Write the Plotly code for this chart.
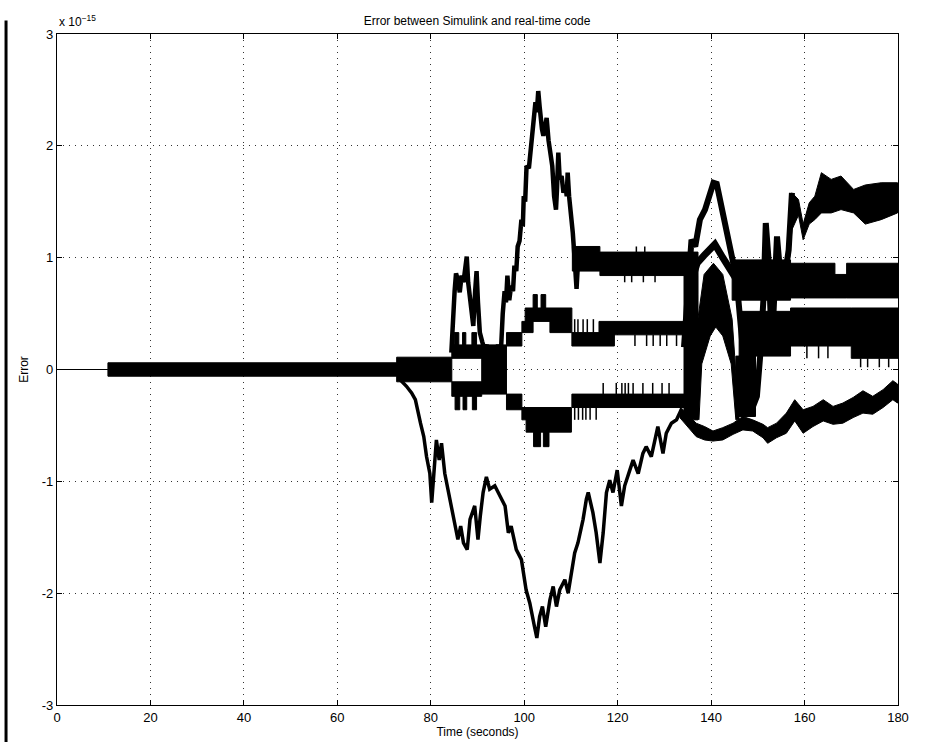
import plotly.graph_objects as go

# ---------------- data (values in units of 1e-15) ----------------
# quantised bands: (start time, end time, low, high)
band_t0 = [10.9, 72.7,
           84.5, 85.0, 86.8, 88.8, 90.9, 96.2, 99.5, 100.2, 105.5, 101.9, 103.6,
           110.2, 116.0, 119.3,
           84.5, 85.2, 86.9, 88.9, 96.2, 99.5, 100.4, 102.0, 104.1, 110.2,
           110.3, 116.2,
           134.2,
           144.5, 146.0, 145.3,
           157.0, 166.5, 169.0, 157.0, 170.0]
band_t1 = [72.7, 84.5,
           90.9, 86.0, 87.5, 89.8, 96.2, 99.5, 101.9, 110.2, 110.2, 102.8, 104.6,
           116.0, 119.3, 134.2,
           90.9, 86.2, 87.7, 89.8, 99.5, 100.4, 110.1, 103.5, 105.3, 134.2,
           116.2, 134.2,
           137.2,
           157.0, 157.0, 149.5,
           166.5, 169.0, 180.0, 170.0, 180.0]
band_lo = [-0.06, -0.11,
           0.10, 0.22, 0.22, 0.22, -0.22, 0.21, 0.33, 0.43, 0.33, 0.55, 0.55,
           0.21, 0.21, 0.31,
           -0.24, -0.36, -0.36, -0.36, -0.36, -0.45, -0.56, -0.69, -0.69, -0.34,
           0.88, 0.84,
           -0.45,
           0.62, 0.12, -0.42,
           0.64, 0.64, 0.64, 0.21, 0.10]
band_hi = [0.06, 0.11,
           0.22, 0.33, 0.33, 0.33, 0.22, 0.33, 0.43, 0.55, 0.43, 0.67, 0.67,
           0.33, 0.43, 0.43,
           -0.11, -0.24, -0.24, -0.24, -0.22, -0.34, -0.34, -0.56, -0.56, -0.22,
           1.10, 1.05,
           1.05,
           0.98, 0.52, 0.12,
           0.95, 0.85, 0.95, 0.55, 0.55]

# thin vertical spikes: time, from, to
spike_t = [110.8, 111.5, 112.6, 113.5, 114.8,
           110.8, 111.6, 112.5, 113.2, 114.1, 115.4,
           116.9, 119.7, 120.9, 121.6, 122.3, 123.3, 125.4, 127.5, 129.5, 131.0,
           123.7, 126.2, 127.6, 129.1, 130.5, 132.6,
           121.5, 123.0, 125.5, 128.0, 124.0, 125.8,
           172.0, 173.5, 176.0, 178.0, 160.5, 163.0, 165.0]
spike_v0 = [0.33, 0.33, 0.33, 0.33, 0.33,
            -0.34, -0.34, -0.34, -0.34, -0.34, -0.34,
            -0.22, -0.22, -0.22, -0.22, -0.22, -0.22, -0.22, -0.22, -0.22, -0.22,
            0.31, 0.31, 0.31, 0.31, 0.31, 0.31,
            0.84, 0.84, 0.84, 0.84, 1.05, 1.05,
            0.10, 0.10, 0.10, 0.10, 0.21, 0.21, 0.21]
spike_v1 = [0.45, 0.45, 0.45, 0.45, 0.45,
            -0.45, -0.45, -0.45, -0.45, -0.45, -0.45,
            -0.12, -0.12, -0.12, -0.12, -0.12, -0.12, -0.12, -0.12, -0.12, -0.12,
            0.21, 0.21, 0.21, 0.21, 0.21, 0.21,
            0.78, 0.78, 0.78, 0.78, 1.10, 1.10,
            0.02, 0.02, 0.02, 0.02, 0.10, 0.10, 0.10]

# upper wandering error (first part)
a_t = [84.4, 84.8, 85.1, 85.4, 85.8, 86.2, 86.6, 87.0, 87.4, 87.7, 88.0, 88.3, 88.7,
       89.1, 89.5, 89.8, 90.1, 90.5, 91.0, 91.5, 92.0, 92.6, 93.2, 93.8, 94.4, 95.0,
       95.4, 95.8, 96.1, 96.4, 96.8, 97.2, 97.6, 97.9, 98.3, 98.6, 99.0, 99.4, 99.7,
       99.9, 100.2, 100.5, 101.0, 101.3, 101.7, 102.0, 102.4, 102.7, 103.0, 103.3,
       103.5, 103.8, 104.1, 104.5, 104.8, 105.2, 105.4, 105.7, 106.0, 106.4, 106.8,
       107.0, 107.3, 107.6, 108.0, 108.4, 108.8, 109.1, 109.3, 109.6, 110.0, 110.4,
       110.8, 111.2, 111.5, 112.0]
a_v = [0.15, 0.55, 0.70, 0.86, 0.80, 0.69, 0.84, 0.78, 0.92, 1.01, 0.78, 0.68, 0.50,
       0.39, 0.70, 0.88, 0.60, 0.33, 0.25, 0.18, 0.22, 0.10, 0.20, 0.12, 0.22, 0.15,
       0.50, 0.70, 0.60, 0.84, 0.62, 0.75, 0.70, 0.93, 0.88, 1.10, 1.15, 1.34, 1.28,
       1.55, 1.50, 1.82, 1.80, 1.94, 2.15, 2.30, 2.39, 2.30, 2.49, 2.35,
       2.24, 2.15, 2.09, 2.20, 2.25, 2.05, 1.97, 1.94, 1.82, 1.55, 1.43,
       1.60, 1.94, 1.70, 1.73, 1.58, 1.65, 1.55, 1.76, 1.55, 1.40, 1.22,
       0.98, 0.72, 0.95, 1.00]

# upper wandering error (second part)
a2_t = [134.2, 134.8, 135.1, 135.8, 136.6, 137.6, 138.7, 139.3, 139.8, 140.5, 141.2,
        141.9, 142.5, 143.0, 143.7, 144.4, 145.0, 145.5, 146.2, 146.9, 147.7, 148.7,
        149.8, 150.5, 151.2, 151.7, 152.3, 153.0, 153.6, 154.1, 155.2, 155.9, 156.6,
        157.3]
a2_v = [0.20, 0.60, 0.78, 1.16, 1.10, 1.34, 1.43, 1.50, 1.58, 1.67, 1.66,
        1.52, 1.45, 1.34, 1.19, 1.01, 0.90, 0.78, 0.48, 0.06, -0.24, -0.36,
        -0.24, 0.12, 0.63, 1.31, 0.98, 0.18, 0.72, 1.19, 0.66, 0.90, 1.07,
        1.58]

# inner triangle and arch in the 135-146 s region
tri_t = [135.5, 137.0, 138.5, 140.8, 142.5, 144.0, 145.5]
tri_v = [0.75, 0.95, 1.02, 1.12, 1.00, 0.90, 0.80]
arch_t = [136.5, 137.0, 138.5, 140.5, 142.5, 144.5, 146.0,
          145.3, 144.3, 142.5, 141.0, 139.8, 138.0, 137.4]
arch_v = [-0.45, 0.40, 0.85, 0.95, 0.85, 0.45, -0.45,
          -0.45, 0.05, 0.30, 0.38, 0.30, 0.05, -0.45]

# late upper band (~1.5)
h_t = [156.8, 157.3, 158.7, 159.7, 161.0, 162.2, 163.6, 165.7, 167.8, 170.5, 173.0, 176.4, 179.9]
h_hi = [1.20, 1.58, 1.52, 1.30, 1.49, 1.55, 1.76, 1.70, 1.73, 1.61, 1.65, 1.67, 1.67]
h_lo = [1.00, 1.25, 1.38, 1.16, 1.30, 1.34, 1.40, 1.40, 1.43, 1.40, 1.30, 1.34, 1.40]

# lower wandering error (first part)
c_t = [73.4, 74.8, 75.9, 76.7, 77.8, 78.5, 79.1, 79.8, 80.2, 80.6, 81.2, 81.8, 82.3,
       83.0, 83.8, 84.8, 85.8, 86.4, 87.0, 87.8, 88.4, 89.4, 90.1, 90.6, 91.2, 91.9,
       92.6, 93.7, 94.8, 95.9, 96.6, 97.2, 98.3, 99.4, 100.4, 101.2, 102.2, 102.7,
       103.3, 103.9, 104.6, 105.5, 106.2, 106.9, 107.6, 108.7, 109.4, 110.1, 110.8,
       111.5, 112.6, 113.3, 113.7, 114.7, 115.4, 116.2, 116.9, 117.6, 118.3, 119.0,
       119.9, 120.8, 121.5, 122.6, 123.3, 124.4, 125.4, 126.1, 127.2, 128.6, 129.7,
       130.4, 131.5, 132.6, 133.6]
c_v = [-0.09, -0.15, -0.21, -0.27, -0.48, -0.60, -0.78, -0.93, -1.19, -0.99, -0.63,
       -0.81, -0.66, -0.93, -1.10, -1.34, -1.52, -1.40, -1.55, -1.61, -1.34, -1.22,
       -1.52, -1.31, -1.10, -0.96, -1.07, -1.04, -1.13, -1.22, -1.46, -1.40, -1.61,
       -1.70, -1.97, -2.09, -2.30, -2.40, -2.21, -2.12, -2.30, -2.06, -1.94, -2.12,
       -1.97, -1.88, -2.00, -1.82, -1.64, -1.55, -1.34, -1.16, -1.10, -1.28, -1.46,
       -1.73, -1.46, -1.10, -0.99, -1.10, -0.90, -1.22, -1.04, -0.90, -0.81, -0.93,
       -0.75, -0.69, -0.78, -0.51, -0.75, -0.57, -0.48, -0.45, -0.36]

# lower wandering error (second part, noisy band)
c2_t = [133.3, 136.8, 138.6, 140.4, 142.5, 144.7, 146.8, 148.9, 151.1, 152.1, 154.0,
        156.1, 157.9, 159.7, 161.8, 164.0, 166.1, 168.2, 170.4, 172.5, 174.6, 176.8,
        178.9, 179.9]
c2_hi = [-0.33, -0.48, -0.51, -0.55, -0.52, -0.48, -0.42, -0.45, -0.49, -0.52, -0.48,
         -0.39, -0.27, -0.36, -0.33, -0.27, -0.33, -0.30, -0.25, -0.19, -0.24, -0.18,
         -0.10, -0.13]
c2_lo = [-0.43, -0.60, -0.63, -0.64, -0.63, -0.58, -0.54, -0.55, -0.61, -0.66, -0.61,
         -0.57, -0.46, -0.57, -0.51, -0.46, -0.49, -0.48, -0.43, -0.39, -0.40, -0.34,
         -0.27, -0.30]

x_ticks = [0, 20, 40, 60, 80, 100, 120, 140, 160, 180]
y_ticks = [-3, -2, -1, 0, 1, 2, 3]

# ---------------- figure ----------------
INK = "#000000"
FAM = "Liberation Sans, Arial, Helvetica, sans-serif"
fig = go.Figure()

# initial exact zero
fig.add_trace(go.Scatter(x=[0, 10.9], y=[0, 0], mode="lines",
                         line=dict(color=INK, width=1), hoverinfo="skip"))

# quantised bands as filled rectangles
bx, by = [], []
for t0, t1, lo, hi in zip(band_t0, band_t1, band_lo, band_hi):
    bx += [t0, t1, t1, t0, t0, None]
    by += [lo, lo, hi, hi, lo, None]
fig.add_trace(go.Scatter(x=bx, y=by, mode="lines", fill="toself", fillcolor=INK,
                         line=dict(color=INK, width=1), hoverinfo="skip"))

# spikes
sx, sy = [], []
for t, v0, v1 in zip(spike_t, spike_v0, spike_v1):
    sx += [t, t, None]
    sy += [v0, v1, None]
fig.add_trace(go.Scatter(x=sx, y=sy, mode="lines", line=dict(color=INK, width=1.5),
                         hoverinfo="skip"))

# arch polygon
fig.add_trace(go.Scatter(x=arch_t, y=arch_v, mode="lines", fill="toself", fillcolor=INK,
                         line=dict(color=INK, width=1), hoverinfo="skip"))

# late bands with sloping edges
fig.add_trace(go.Scatter(x=h_t + h_t[::-1], y=h_hi + h_lo[::-1], mode="lines",
                         fill="toself", fillcolor=INK, line=dict(color=INK, width=1),
                         hoverinfo="skip"))
fig.add_trace(go.Scatter(x=c2_t + c2_t[::-1], y=c2_hi + c2_lo[::-1], mode="lines",
                         fill="toself", fillcolor=INK, line=dict(color=INK, width=1),
                         hoverinfo="skip"))

# wandering curves
fig.add_trace(go.Scatter(x=a_t, y=a_v, mode="lines", line=dict(color=INK, width=4.5),
                         hoverinfo="skip"))
fig.add_trace(go.Scatter(x=a2_t, y=a2_v, mode="lines", line=dict(color=INK, width=6),
                         hoverinfo="skip"))
fig.add_trace(go.Scatter(x=tri_t, y=tri_v, mode="lines", line=dict(color=INK, width=7),
                         hoverinfo="skip"))
fig.add_trace(go.Scatter(x=c_t, y=c_v, mode="lines", line=dict(color=INK, width=3.5),
                         hoverinfo="skip"))

tick_font = dict(family=FAM, size=13, color="#000")

axis_common = dict(showline=True, linecolor="#000", linewidth=1.3, mirror="ticks",
                   ticks="inside", ticklen=5, tickwidth=1, tickcolor="#000",
                   showgrid=True, gridcolor="#333", gridwidth=1, griddash="1px,5px",
                   zeroline=False, tickfont=tick_font, automargin=False)

fig.update_layout(
    width=930, height=742,
    margin=dict(l=57, r=32, t=34, b=37),
    paper_bgcolor="white", plot_bgcolor="white",
    showlegend=False,
    font=dict(family=FAM, size=12, color="#000"),
    title=dict(text="Error between Simulink and real-time code", x=0.513, xanchor="center",
               y=0.972, yanchor="middle", automargin=False,
               font=dict(size=12, color="#000", family=FAM)),
    xaxis=dict(range=[0, 180], tickvals=x_ticks, ticktext=[str(v) for v in x_ticks],
               title=dict(text="Time (seconds)", standoff=0,
                          font=dict(size=12, color="#000", family=FAM)),
               **axis_common),
    yaxis=dict(range=[-3, 3], tickvals=y_ticks, ticktext=[str(v) for v in y_ticks],
               title=dict(text="Error", standoff=10,
                          font=dict(size=12, color="#000", family=FAM)),
               **axis_common),
    annotations=[dict(text="x 10<sup>−15</sup>", xref="paper", yref="paper", x=0.0,
                      y=1.0, xanchor="left", yanchor="bottom", yshift=3, showarrow=False,
                      font=dict(size=12, color="#000", family=FAM))],
    shapes=[dict(type="line", xref="paper", yref="paper", x0=-0.0606, x1=-0.0606,
                 y0=-0.06, y1=1.02, line=dict(color="#000", width=3))],
)

fig.write_html("out.html", config={"displayModeBar": False},
               post_script="document.body.style.margin='0px';document.body.style.overflow='hidden';")
